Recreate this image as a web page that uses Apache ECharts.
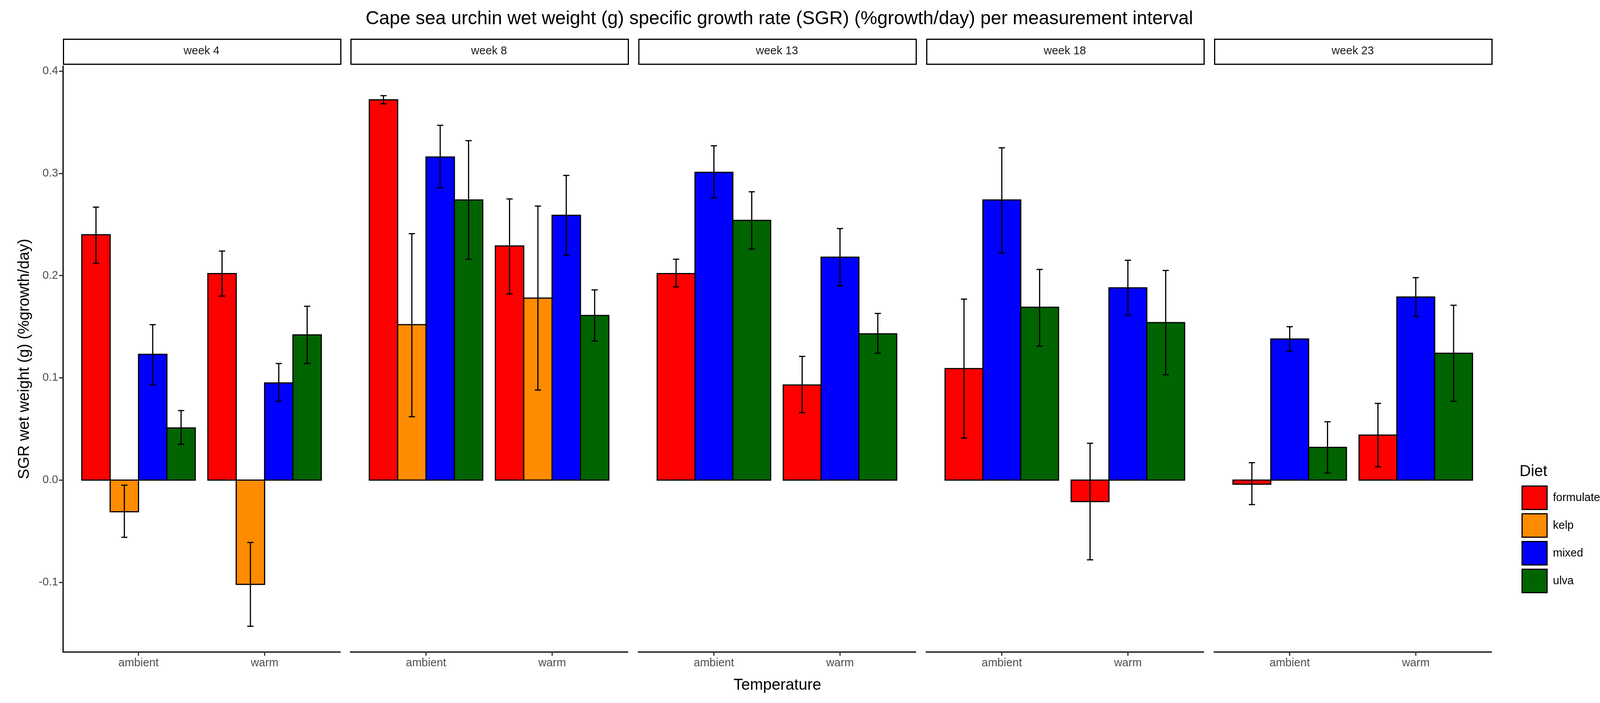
<!DOCTYPE html>
<html>
<head>
  <meta charset="utf-8">
  <title>Cape sea urchin SGR</title>
  <script src="https://cdn.jsdelivr.net/npm/echarts@6/dist/echarts.min.js"></script>
  <style>html,body{margin:0;background:#fff}#chart{width:4200px;height:1800px}</style>
</head>
<body>
<div id="chart"></div>
<script>
  const weeks = ['week 4', 'week 8', 'week 13', 'week 18', 'week 23'];
  const temps = ['ambient', 'warm'];
  const diets = ['formulated', 'kelp', 'mixed', 'ulva'];
  const dietColors = ['#ff0000', '#ff8c00', '#0000ff', '#006400'];

  // per week, per diet: [ambient, warm] mean, lower, upper (null = no data)
  const meanVals = [
    [[0.240, 0.202], [-0.031, -0.102], [0.123, 0.095], [0.051, 0.142]],
    [[0.372, 0.229], [0.152, 0.178], [0.316, 0.259], [0.274, 0.161]],
    [[0.202, 0.093], null, [0.301, 0.218], [0.254, 0.143]],
    [[0.109, -0.021], null, [0.274, 0.188], [0.169, 0.154]],
    [[-0.004, 0.044], null, [0.138, 0.179], [0.032, 0.124]]
  ];
  const lowVals = [
    [[0.212, 0.180], [-0.056, -0.143], [0.093, 0.077], [0.035, 0.114]],
    [[0.368, 0.182], [0.062, 0.088], [0.286, 0.220], [0.216, 0.136]],
    [[0.189, 0.066], null, [0.276, 0.190], [0.226, 0.124]],
    [[0.041, -0.078], null, [0.222, 0.161], [0.131, 0.103]],
    [[-0.024, 0.013], null, [0.126, 0.160], [0.007, 0.077]]
  ];
  const highVals = [
    [[0.267, 0.224], [-0.005, -0.061], [0.152, 0.114], [0.068, 0.170]],
    [[0.376, 0.275], [0.241, 0.268], [0.347, 0.298], [0.332, 0.186]],
    [[0.216, 0.121], null, [0.327, 0.246], [0.282, 0.163]],
    [[0.177, 0.036], null, [0.325, 0.215], [0.206, 0.205]],
    [[0.017, 0.075], null, [0.150, 0.198], [0.057, 0.171]]
  ];
  const yTicks = [-0.1, 0, 0.1, 0.2, 0.3, 0.4];

  const chart = echarts.init(document.getElementById('chart'));
  const panelLeft = [161, 897, 1634, 2371, 3108];
  const panelW = 710, panelTop = 169, panelBottom = 1669;

  const grids = [], xAxes = [], yAxes = [], series = [], graphics = [];

  weeks.forEach(function (wk, w) {
    grids.push({ left: panelLeft[w], top: panelTop, width: panelW, height: panelBottom - panelTop });
    xAxes.push({
      type: 'value', gridIndex: w, min: 0.4, max: 2.6,
      axisLine: { show: true, onZero: false, lineStyle: { color: '#000', width: 3 } },
      axisTick: { show: true, length: 10, lineStyle: { color: '#333', width: 3 }, customValues: [1, 2] },
      axisLabel: { fontSize: 29, color: '#4d4d4d', margin: 14, customValues: [1, 2],
        formatter: function (v) { return temps[Math.round(v) - 1]; } },
      splitLine: { show: false }
    });
    yAxes.push({
      type: 'value', gridIndex: w, min: -0.168, max: 0.405,
      axisLine: { show: w === 0, onZero: false, lineStyle: { color: '#000', width: 3 } },
      axisTick: { show: w === 0, length: 10, lineStyle: { color: '#333', width: 3 }, customValues: yTicks },
      axisLabel: { show: w === 0, fontSize: 29, color: '#4d4d4d', margin: 12, customValues: yTicks,
        formatter: function (v) { return v.toFixed(1); } },
      splitLine: { show: false },
      name: w === 0 ? 'SGR wet weight (g) (%growth/day)' : '', nameLocation: 'middle', nameGap: 78,
      nameTextStyle: { fontSize: 40, color: '#000' }
    });

    const present = [];
    diets.forEach(function (d, k) { if (meanVals[w][k]) present.push(k); });
    const n = present.length;

    present.forEach(function (k, j) {
      const data = [];
      [0, 1].forEach(function (t) {
        data.push([t + 1, meanVals[w][k][t], lowVals[w][k][t], highVals[w][k][t], j, n]);
      });
      series.push({
        name: diets[k], type: 'custom', xAxisIndex: w, yAxisIndex: w,
        itemStyle: { color: dietColors[k] },
        data: data,
        renderItem: function (params, api) {
          const cx = api.value(0) - 0.45 + 0.9 * (api.value(4) + 0.5) / api.value(5);
          const hw = 0.45 / api.value(5);
          const p0 = api.coord([cx - hw, api.value(1)]);
          const p1 = api.coord([cx + hw, 0]);
          const c = api.coord([cx, 0]);
          const lo = api.coord([cx, api.value(2)]);
          const hi = api.coord([cx, api.value(3)]);
          const cap = 8;
          return {
            type: 'group',
            children: [
              { type: 'rect',
                shape: { x: p0[0], y: Math.min(p0[1], p1[1]), width: p1[0] - p0[0], height: Math.abs(p1[1] - p0[1]) },
                style: { fill: dietColors[k], stroke: '#000', lineWidth: 3 } },
              { type: 'line', shape: { x1: c[0], y1: lo[1], x2: c[0], y2: hi[1] }, style: { stroke: '#000', lineWidth: 3 } },
              { type: 'line', shape: { x1: c[0] - cap, y1: lo[1], x2: c[0] + cap, y2: lo[1] }, style: { stroke: '#000', lineWidth: 3 } },
              { type: 'line', shape: { x1: c[0] - cap, y1: hi[1], x2: c[0] + cap, y2: hi[1] }, style: { stroke: '#000', lineWidth: 3 } }
            ]
          };
        }
      });
    });

    graphics.push({
      type: 'rect', left: panelLeft[w], top: 99,
      shape: { width: panelW, height: 64 },
      style: { fill: '#fff', stroke: '#000', lineWidth: 3 }
    });
    graphics.push({
      type: 'text', x: panelLeft[w] + panelW / 2, y: 131,
      style: { text: wk, fontSize: 29, fill: '#1a1a1a', align: 'center', verticalAlign: 'middle' }
    });
  });

  graphics.push({ type: 'text', x: 1990, y: 1755,
    style: { text: 'Temperature', fontSize: 40, fill: '#000', align: 'center', verticalAlign: 'middle' } });
  graphics.push({ type: 'text', x: 3890, y: 1208,
    style: { text: 'Diet', fontSize: 40, fill: '#000', verticalAlign: 'middle' } });

  chart.setOption({
    animation: false,
    textStyle: { fontFamily: 'Liberation Sans, Arial, sans-serif' },
    title: { text: 'Cape sea urchin wet weight (g) specific growth rate (SGR) (%growth/day) per measurement interval',
      left: 1990, top: 20, textAlign: 'center',
      textStyle: { fontSize: 48, fontWeight: 'normal', color: '#000' } },
    legend: {
      orient: 'vertical', left: 3890, top: 1238, itemWidth: 64, itemHeight: 60, itemGap: 8,
      data: diets.map(function (d, k) {
        return { name: d, icon: 'rect', itemStyle: { color: dietColors[k], borderColor: '#000', borderWidth: 3 } };
      }),
      textStyle: { fontSize: 29, color: '#000', padding: [0, 0, 0, 10] }
    },
    grid: grids, xAxis: xAxes, yAxis: yAxes, series: series, graphic: graphics
  });
</script>
</body>
</html>
